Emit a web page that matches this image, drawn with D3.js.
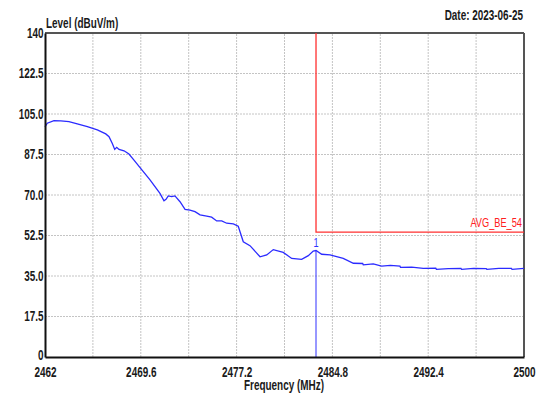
<!DOCTYPE html>
<html>
<head>
<meta charset="utf-8">
<script src="https://cdn.jsdelivr.net/npm/d3@7"></script>
<style>
  html, body { margin: 0; padding: 0; background: #fff; }
  svg { display: block; }
  text { font-family: "Liberation Sans", Arial, sans-serif; font-weight: bold; fill: #1a1a1a; }
</style>
</head>
<body>
<svg id="chart" width="538" height="396"></svg>
<script>
// Spectrum sweep near the upper band edge: frequency (MHz) and level (dBuV/m)
const freqs = [
  2462.00, 2462.18, 2462.71, 2463.25, 2463.90, 2464.56, 2465.36, 2466.15, 2466.82, 2467.08,
  2467.34, 2467.53, 2467.69, 2467.87, 2468.27, 2468.66, 2469.06, 2469.59, 2470.33, 2471.12,
  2471.44, 2471.60, 2471.78, 2472.05, 2472.31, 2472.71, 2473.11, 2473.50, 2473.90, 2474.30,
  2474.83, 2475.22, 2475.62, 2476.02, 2476.41, 2476.94, 2477.33, 2477.73, 2478.26, 2479.06,
  2479.59, 2480.11, 2480.90, 2481.57, 2482.36, 2482.89, 2483.28, 2483.50, 2483.95, 2484.61,
  2485.66, 2486.46, 2487.20, 2487.25, 2488.04, 2488.71, 2489.40, 2490.16, 2490.20, 2491.09,
  2492.01, 2493.00, 2493.05, 2494.00, 2495.00, 2495.05, 2496.00, 2497.00, 2497.05, 2498.00,
  2499.00, 2499.05, 2500.00
];
const levels = [
  99.4, 101.0, 102.1, 102.0, 101.7, 100.7, 99.5, 98.1, 96.4, 95.2,
  92.3, 89.7, 90.6, 89.7, 89.1, 87.7, 85.1, 81.5, 76.5, 70.7,
  67.5, 68.1, 69.6, 69.3, 69.6, 67.1, 63.8, 63.5, 62.8, 61.4,
  60.9, 60.4, 58.8, 58.8, 57.8, 57.5, 56.5, 49.8, 48.1, 43.3,
  44.1, 46.4, 45.2, 42.6, 42.2, 43.8, 45.8, 46.0, 44.4, 44.1,
  42.6, 40.5, 40.4, 39.8, 40.2, 39.3, 39.6, 39.3, 38.7, 38.8,
  38.3, 38.4, 37.9, 38.2, 38.3, 37.9, 38.3, 38.2, 37.9, 38.3,
  38.3, 37.9, 38.3
];

// Axis ticks
const xTicks = [2462, 2469.6, 2477.2, 2484.8, 2492.4, 2500];
const xGrid = [2462, 2465.8, 2469.6, 2473.4, 2477.2, 2481, 2484.8, 2488.6, 2492.4, 2496.2, 2500];
const yTicks = [0, 17.5, 35, 52.5, 70, 87.5, 105, 122.5, 140];
const yTickLabels = ["0", "17.5", "35.0", "52.5", "70.0", "87.5", "105.0", "122.5", "140"];

// Limit line and marker
const limitName = "AVG_BE_54";
const limitLevel = 54;
const bandEdge = 2483.5;
const markerFreq = 2483.5;
const markerLevel = 46.0;
const markerLabel = "1";
const dateText = "Date: 2023-06-25";

const svg = d3.select("#chart");
const m = { left: 45, right: 14, top: 33, bottom: 39 };
const W = 538, H = 396;
const x = d3.scaleLinear().domain([2462, 2500]).range([m.left, W - m.right]);
const y = d3.scaleLinear().domain([0, 140]).range([H - m.bottom, m.top]);
const SQ = 0.71; // horizontal squeeze for the condensed label face

// Condensed text helper: anchor point (px, py), squeezed horizontally
function label(px, py, str, anchor, size, color) {
  return svg.append("text")
    .attr("transform", `translate(${px},${py}) scale(${SQ},1)`)
    .attr("text-anchor", anchor)
    .style("font-size", size + "px")
    .style("fill", color || "#1a1a1a")
    .text(str);
}

// Grid
const grid = svg.append("g");
grid.selectAll("line.v").data(xGrid.slice(1, -1)).join("line")
  .attr("x1", d => x(d)).attr("x2", d => x(d))
  .attr("y1", y(0)).attr("y2", y(140))
  .attr("stroke", "#c4c4c4").attr("stroke-width", 1).attr("stroke-dasharray", "2,1");
grid.selectAll("line.h").data(yTicks.slice(1, -1)).join("line")
  .attr("x1", x(2462)).attr("x2", x(2500))
  .attr("y1", d => y(d)).attr("y2", d => y(d))
  .attr("stroke", "#c4c4c4").attr("stroke-width", 1).attr("stroke-dasharray", "2,1");

// Frame: top and right in grey, left and bottom as dark axes
svg.append("line").attr("x1", x(2462)).attr("x2", x(2500)).attr("y1", y(140)).attr("y2", y(140))
  .attr("stroke", "#555").attr("stroke-width", 2);
svg.append("line").attr("x1", x(2500)).attr("x2", x(2500)).attr("y1", y(140)).attr("y2", y(0))
  .attr("stroke", "#555").attr("stroke-width", 2);

// Limit line (red): vertical at band edge, horizontal at limit level
svg.append("path")
  .attr("d", `M${x(bandEdge)},${y(140)}V${y(limitLevel)}H${x(2500)}`)
  .attr("fill", "none").attr("stroke", "#ff3030").attr("stroke-width", 1.3);
label(x(2500) - 2, y(limitLevel) - 5, limitName, "end", 13, "#ff2020").style("font-weight", "normal");

// Trace
const pts = freqs.map((f, i) => [f, levels[i]]);
svg.append("path").datum(pts)
  .attr("d", d3.line().x(d => x(d[0])).y(d => y(d[1])))
  .attr("fill", "none").attr("stroke", "#2b2bff").attr("stroke-width", 1.3);

// Marker
svg.append("line").attr("x1", x(markerFreq)).attr("x2", x(markerFreq))
  .attr("y1", y(markerLevel)).attr("y2", y(0))
  .attr("stroke", "#3030ff").attr("stroke-width", 1);
label(x(markerFreq), y(markerLevel) - 4, markerLabel, "middle", 13, "#3030ff").style("font-weight", "normal");

// Axes
const xAxis = d3.axisBottom(x).tickValues(xTicks).tickSize(0).tickPadding(10)
  .tickFormat(d => String(d));
const gx = svg.append("g").attr("transform", `translate(0,${y(0)})`).call(xAxis);
gx.select(".domain").attr("stroke", "#111").attr("stroke-width", 2);
gx.selectAll("text")
  .attr("font-family", null).attr("font-size", null)
  .style("font-size", "14px").style("fill", "#1a1a1a")
  .attr("transform", `scale(${SQ},1)`)
  .attr("x", 0).attr("y", 10).attr("dy", "0.71em");

const yAxis = d3.axisLeft(y).tickValues(yTicks).tickSize(0).tickPadding(2)
  .tickFormat((d, i) => yTickLabels[i]);
const gy = svg.append("g").attr("transform", `translate(${x(2462)},0)`).call(yAxis);
gy.select(".domain").attr("stroke", "#111").attr("stroke-width", 2);
gy.selectAll("text")
  .attr("font-family", null).attr("font-size", null)
  .style("font-size", "14px").style("fill", "#1a1a1a")
  .attr("transform", `scale(${SQ},1)`);
// keep the zero label clear of the first frequency label
gy.selectAll(".tick").filter(d => d === 0).select("text").attr("y", -1.5);

// Titles
label(x(2462) + 1, 28, "Level (dBuV/m)", "start", 14);
label(284, 390, "Frequency (MHz)", "middle", 14);
label(523, 20, dateText, "end", 14);
</script>
</body>
</html>
